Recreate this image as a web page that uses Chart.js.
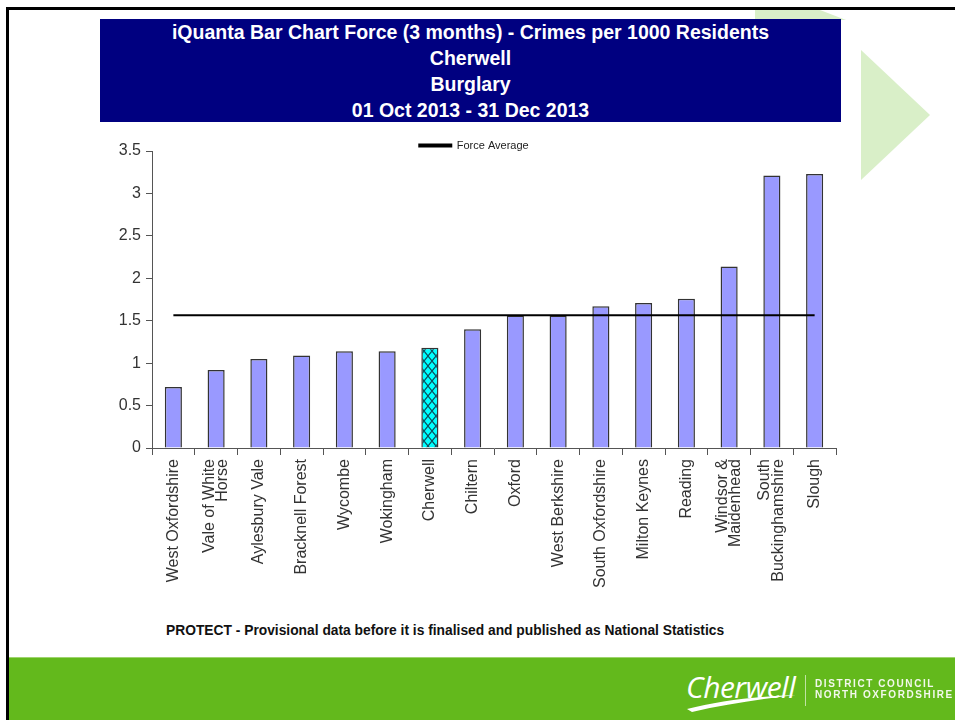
<!DOCTYPE html>
<html>
<head>
<meta charset="utf-8">
<script src="https://cdn.jsdelivr.net/npm/chart.js@4.4.1/dist/chart.umd.min.js"></script>
<style>
  body { margin: 0; width: 955px; height: 720px; position: relative; overflow: hidden; background: #fff; font-family: "Liberation Sans", Arial, sans-serif; }
  .edge-top { position: absolute; left: 6px; top: 7px; width: 949px; height: 3px; background: #000; }
  .edge-left { position: absolute; left: 6px; top: 7px; width: 3px; height: 713px; background: #000; }
  .deco { position: absolute; left: 0; top: 0; }
  .title { position: absolute; left: 100px; top: 19px; width: 741px; height: 103px; background: #000080; color: #fff; font-weight: bold; font-size: 19.5px; line-height: 26px; text-align: center; }
  #chartWrap { position: absolute; left: 100px; top: 136px; width: 745px; height: 484px; }
  .note { position: absolute; left: 166px; top: 623px; font-family: "Liberation Sans Narrow", "Arial Narrow", sans-serif; font-weight: bold; font-size: 13.8px; color: #111; white-space: nowrap; }
  .footer { position: absolute; left: 9px; top: 657px; width: 946px; height: 63px; background: #63b91c; border-top: 1px solid #9fd46e; }
  .logo-name { position: absolute; left: 686px; top: 666px; color: #fff; font-family: "Open Sans", "Liberation Sans", sans-serif; font-style: italic; font-size: 30px; letter-spacing: -0.5px; }
  .logo-bar { position: absolute; left: 805px; top: 675px; width: 1px; height: 31px; background: rgba(255,255,255,0.6); }
  .logo-text { position: absolute; left: 815px; top: 678px; color: #f2f8ec; font-size: 10px; font-weight: bold; letter-spacing: 1.6px; line-height: 11px; white-space: nowrap; }
</style>
</head>
<body>
<svg class="deco" width="955" height="720">
  <polygon points="755,10 820,10 846,20 755,20" fill="#d9efc8"/>
  <polygon points="861,50 861,180 930,115" fill="#d9efc8"/>
</svg>
<div class="edge-top"></div>
<div class="edge-left"></div>

<div class="title">
  iQuanta Bar Chart Force (3 months) - Crimes per 1000 Residents<br>
  Cherwell<br>
  Burglary<br>
  01 Oct 2013 - 31 Dec 2013
</div>

<div id="chartWrap"><canvas id="forceChart" width="745" height="484"></canvas></div>

<div class="note">PROTECT - Provisional data before it is finalised and published as National Statistics</div>

<div class="footer"></div>
<div class="logo-name">Cherwell</div>
<svg class="deco" width="955" height="720">
  <path d="M 687 709 C 718 701, 758 696, 796 695 C 762 699, 726 704, 692 712 Z" fill="#fff"/>
</svg>
<div class="logo-bar"></div>
<div class="logo-text">DISTRICT COUNCIL<br>NORTH OXFORDSHIRE</div>

<script>
// Burglary rate per 1000 residents by district, Oct - Dec 2013
const districts = [
  "West Oxfordshire", ["Vale of White", "Horse"], "Aylesbury Vale", "Bracknell Forest",
  "Wycombe", "Wokingham", "Cherwell", "Chiltern", "Oxford", "West Berkshire",
  "South Oxfordshire", "Milton Keynes", "Reading", ["Windsor &", "Maidenhead"],
  ["South", "Buckinghamshire"], "Slough"
];
const crimesPer1000 = [0.72, 0.92, 1.05, 1.09, 1.14, 1.14, 1.18, 1.40, 1.56, 1.56, 1.67, 1.71, 1.76, 2.14, 3.21, 3.23];
const forceAverage = 1.565;
const highlighted = "Cherwell";
const yTicks = [0, 0.5, 1, 1.5, 2, 2.5, 3, 3.5];

// cross-hatch fill for the highlighted district
function hatchPattern(ctx) {
  const c = document.createElement("canvas");
  c.width = 8;
  c.height = 10;
  const g = c.getContext("2d");
  g.fillStyle = "#00ffff";
  g.fillRect(0, 0, 8, 10);
  g.strokeStyle = "#0b4d5c";
  g.lineWidth = 1.2;
  g.beginPath();
  g.moveTo(0, 0); g.lineTo(8, 10);
  g.moveTo(8, 0); g.lineTo(0, 10);
  g.stroke();
  return ctx.createPattern(c, "repeat");
}

// two-line rotated labels: centre the pair on the tick instead of the first line
const centreMultiLine = {
  id: "centreMultiLine",
  beforeDraw(chart) {
    const scale = chart.scales.x;
    scale.getLabelItems(chart.chartArea).forEach((item) => {
      if (!Array.isArray(item.label) || item._centred) return;
      const lh = item.font.lineHeight;
      item.options.translation[0] -= (lh * (item.label.length - 1)) / 2;
      item._centred = true;
    });
  },
};

// drop the fixed gap Chart.js leaves under the legend so it sits close to the plot
const tightLegend = {
  id: "tightLegend",
  beforeLayout(chart) {
    const legend = chart.legend;
    if (!legend || legend._tight) return;
    const fit = legend.fit;
    legend.fit = function () {
      fit.call(this);
      this.height = Math.max(this.height - 10, 0);
    };
    legend._tight = true;
  },
};

const canvas = document.getElementById("forceChart");
const ctx = canvas.getContext("2d");
const hatch = hatchPattern(ctx);

const barColours = districts.map((d) => (d === highlighted ? hatch : "#9999ff"));

new Chart(ctx, {
  type: "bar",
  plugins: [centreMultiLine, tightLegend],
  data: {
    labels: districts,
    datasets: [
      {
        type: "line",
        label: "Force Average",
        data: districts.map(() => forceAverage),
        borderColor: "#000",
        backgroundColor: "#000",
        borderWidth: 2,
        pointRadius: 0,
        order: 0,
      },
      {
        label: "Rate",
        data: crimesPer1000,
        backgroundColor: barColours,
        borderColor: "#333",
        borderWidth: 1.5,
        categoryPercentage: 1,
        barPercentage: 0.4,
        order: 1,
      },
    ],
  },
  options: {
    responsive: false,
    animation: false,
    layout: { padding: { left: 12, right: 9, top: 4, bottom: 0 } },
    plugins: {
      tooltip: { enabled: false },
      legend: {
        position: "top",
        labels: {
          filter: (item) => item.text === "Force Average",
          boxWidth: 32,
          boxHeight: 2,
          padding: 0,
          color: "#222",
          font: { family: "Liberation Sans", size: 11 },
        },
      },
    },
    scales: {
      x: {
        grid: { drawOnChartArea: false, tickLength: 7, color: "#555", offset: true },
        border: { color: "#555", width: 1 },
        ticks: {
          autoSkip: false,
          maxRotation: 90,
          minRotation: 90,
          padding: 4,
          color: "#333",
          font: { family: "Liberation Sans", size: 16, lineHeight: 0.85 },
        },
        afterFit: (scale) => { scale.height = 172; },
      },
      y: {
        min: 0,
        max: 3.5,
        afterBuildTicks: (scale) => { scale.ticks = yTicks.map((v) => ({ value: v })); },
        grid: { drawOnChartArea: false, tickLength: 6, color: "#555" },
        border: { color: "#555", width: 1 },
        ticks: {
          padding: 5,
          color: "#333",
          font: { family: "Liberation Sans", size: 16 },
          callback: (v) => String(v),
        },
        afterFit: (scale) => { scale.width = 40; },
      },
    },
  },
});
</script>
</body>
</html>
